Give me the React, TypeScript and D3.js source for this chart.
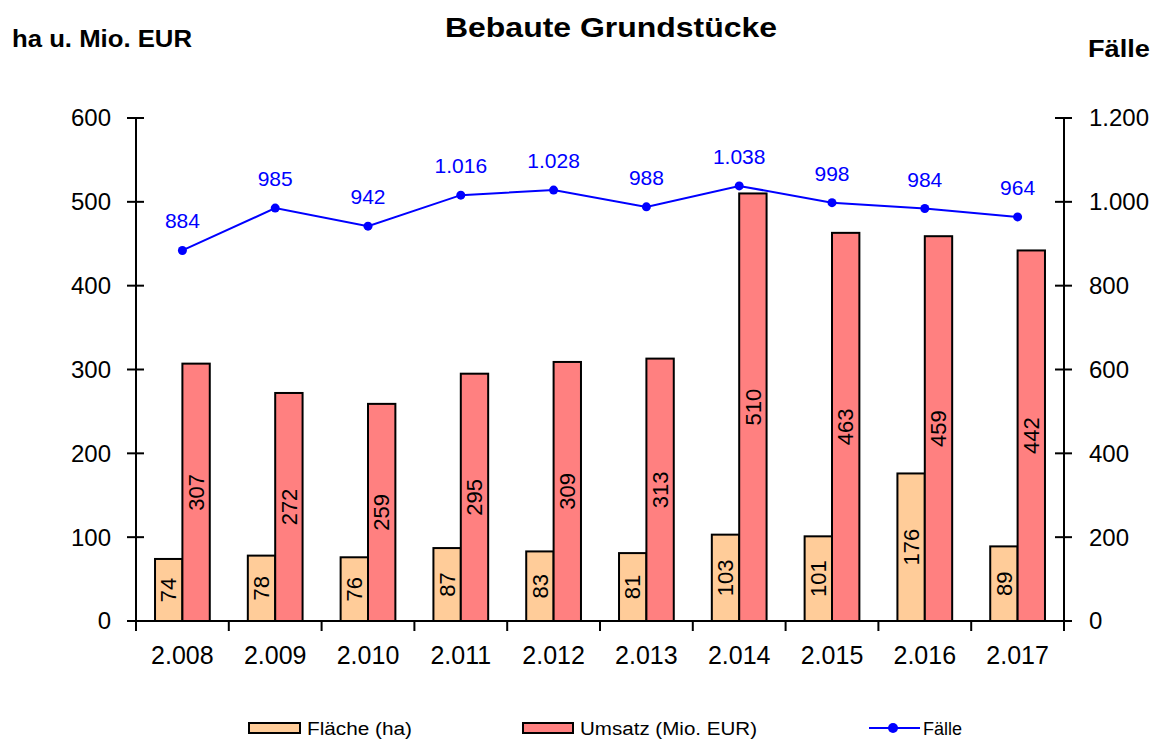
import React from 'react';
import * as d3 from 'd3';

const years = ['2.008', '2.009', '2.010', '2.011', '2.012', '2.013', '2.014', '2.015', '2.016', '2.017'];
const flaeche = [74, 78, 76, 87, 83, 81, 103, 101, 176, 89];
const umsatz = [307, 272, 259, 295, 309, 313, 510, 463, 459, 442];
const faelle = [884, 985, 942, 1016, 1028, 988, 1038, 998, 984, 964];
const leftTicks = [0, 100, 200, 300, 400, 500, 600];
const rightTicks = [0, 200, 400, 600, 800, 1000, 1200];

const W = 1162;
const H = 740;
const margin = { left: 136, right: 98, top: 118, bottom: 119 };
const font = 'Arial, "Liberation Sans", sans-serif';

const fmt = (v: number) => d3.format(',')(v).replace(/,/g, '.');

export default function App() {
  const x = d3.scaleBand<string>().domain(years).range([margin.left, W - margin.right]);
  const inner = d3.scaleBand<string>().domain(['f', 'u']).range([0, x.bandwidth() * 0.59]);
  const groupOffset = (x.bandwidth() - x.bandwidth() * 0.59) / 2;
  const yL = d3.scaleLinear().domain([0, 600]).range([H - margin.bottom, margin.top]);
  const yR = d3.scaleLinear().domain([0, 1200]).range([H - margin.bottom, margin.top]);
  const cx = (i: number) => (x(years[i]) as number) + x.bandwidth() / 2;

  const line = d3.line<number>().x((_, i) => cx(i)).y(d => yR(d));
  const base = yL(0);
  const xl = margin.left;
  const xr = W - margin.right;

  return (
    <svg width={W} height={H} style={{ position: 'absolute', left: 0, top: 0, background: '#fff' }} fontFamily={font}>
      <text x={445} y={37} fontSize={28} fontWeight="bold" textLength={332} lengthAdjust="spacingAndGlyphs">Bebaute Grundstücke</text>
      <text x={12} y={47} fontSize={23} fontWeight="bold" textLength={180} lengthAdjust="spacingAndGlyphs">ha u. Mio. EUR</text>
      <text x={1088} y={57} fontSize={23} fontWeight="bold" textLength={62} lengthAdjust="spacingAndGlyphs">Fälle</text>

      {/* bars */}
      {years.map((yr, i) => {
        const x0 = (x(yr) as number) + groupOffset;
        const fx = x0 + (inner('f') as number);
        const ux = x0 + (inner('u') as number);
        const bw = inner.bandwidth();
        return (
          <g key={yr}>
            <rect x={fx} y={yL(flaeche[i])} width={bw} height={base - yL(flaeche[i])} fill="#FFCC99" stroke="#000" strokeWidth={2} />
            <rect x={ux} y={yL(umsatz[i])} width={bw} height={base - yL(umsatz[i])} fill="#FF8080" stroke="#000" strokeWidth={2} />
            <text transform={`translate(${fx + bw / 2},${(base + yL(flaeche[i])) / 2}) rotate(-90)`} textAnchor="middle" dy="0.35em" fontSize={22}>{flaeche[i]}</text>
            <text transform={`translate(${ux + bw / 2},${(base + yL(umsatz[i])) / 2}) rotate(-90)`} textAnchor="middle" dy="0.35em" fontSize={22}>{umsatz[i]}</text>
          </g>
        );
      })}

      {/* axes */}
      <line x1={xl} x2={xl} y1={margin.top} y2={base} stroke="#000" strokeWidth={2} />
      <line x1={xr} x2={xr} y1={margin.top} y2={base} stroke="#000" strokeWidth={2} />
      <line x1={xl} x2={xr} y1={base} y2={base} stroke="#000" strokeWidth={2} />
      {leftTicks.map(t => (
        <g key={'l' + t}>
          <line x1={xl - 9} x2={xl + 8} y1={yL(t)} y2={yL(t)} stroke="#000" strokeWidth={2} />
          <text x={xl - 25} y={yL(t)} dy="0.35em" textAnchor="end" fontSize={24}>{t}</text>
        </g>
      ))}
      {rightTicks.map(t => (
        <g key={'r' + t}>
          <line x1={xr - 9} x2={xr + 8} y1={yR(t)} y2={yR(t)} stroke="#000" strokeWidth={2} />
          <text x={xr + 25} y={yR(t)} dy="0.35em" textAnchor="start" fontSize={24}>{fmt(t)}</text>
        </g>
      ))}
      {years.map((yr, i) => (
        <g key={'x' + yr}>
          <line x1={x(yr) as number} x2={x(yr) as number} y1={base} y2={base + 10} stroke="#000" strokeWidth={2} />
          <text x={cx(i)} y={base + 43} textAnchor="middle" fontSize={25}>{yr}</text>
        </g>
      ))}
      <line x1={xr} x2={xr} y1={base} y2={base + 10} stroke="#000" strokeWidth={2} />

      {/* line */}
      <path d={line(faelle) as string} fill="none" stroke="#0000FF" strokeWidth={2} />
      {faelle.map((v, i) => (
        <g key={'p' + i}>
          <circle cx={cx(i)} cy={yR(v)} r={4.5} fill="#0000FF" />
          <text x={cx(i)} y={yR(v) - 22} textAnchor="middle" fontSize={21} fill="#0000FF">{fmt(v)}</text>
        </g>
      ))}

      {/* legend */}
      <g fontSize={18}>
        <rect x={249} y={723} width={51} height={10} fill="#FFCC99" stroke="#000" strokeWidth={2} />
        <text x={307} y={735} textLength={105} lengthAdjust="spacingAndGlyphs">Fläche (ha)</text>
        <rect x={523} y={723} width={50} height={10} fill="#FF8080" stroke="#000" strokeWidth={2} />
        <text x={580} y={735} textLength={177} lengthAdjust="spacingAndGlyphs">Umsatz (Mio. EUR)</text>
        <line x1={869} x2={920} y1={728} y2={728} stroke="#0000FF" strokeWidth={2} />
        <circle cx={893} cy={728} r={5} fill="#0000FF" />
        <text x={923} y={735}>Fälle</text>
      </g>
    </svg>
  );
}
